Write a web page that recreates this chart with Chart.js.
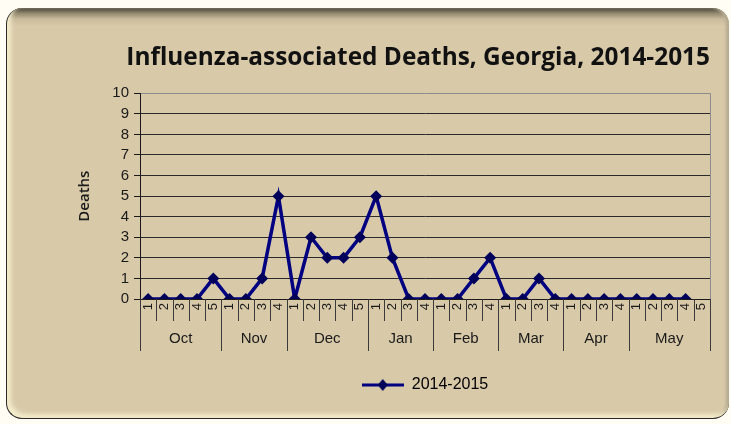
<!DOCTYPE html>
<html>
<head>
<meta charset="utf-8">
<script src="https://cdn.jsdelivr.net/npm/chart.js@4/dist/chart.umd.min.js"></script>
<style>
  body { margin: 0; background: #fffdf4; }
  #wrap { position: relative; width: 731px; height: 424px; overflow: hidden; }
  #panel {
    position: absolute; left: 6px; top: 8px; width: 722px; height: 410px;
    border-radius: 16px;
    border-left: 1px solid #2a2a2a; border-bottom: 1px solid #2a2a2a;
    background: linear-gradient(to bottom, #3c3a30 0px, #8f866c 5px, #c9bb9c 11px, #d8c9a9 18px);
    box-shadow: inset 4px -4px 4px #f4eccb, inset -3px 0 3px #b5ab90;
  }
  #chart { position: absolute; left: 0; top: 0; }
</style>
</head>
<body>
<div id="wrap">
  <div id="panel"></div>
  <canvas id="chart" width="731" height="424"></canvas>
</div>
<script>
// Week labels and month grouping for the x axis
const weekLabels = ["1","2","3","4","5", "1","2","3","4", "1","2","3","4","5",
                    "1","2","3","4", "1","2","3","4", "1","2","3","4",
                    "1","2","3","4", "1","2","3","4","5"];
const monthNames = ["Oct", "Nov", "Dec", "Jan", "Feb", "Mar", "Apr", "May"];
const monthWeeks = [5, 4, 5, 4, 4, 4, 4, 5];

// Deaths per week, 2014-2015 season
const deaths = [0,0,0,0,1, 0,0,1,5, 0,3,2,2,3, 5,2,0,0, 0,0,1,2, 0,0,1,0,
                0,0,0,0, 0,0,0,0,null];

const yTicks = [0, 1, 2, 3, 4, 5, 6, 7, 8, 9, 10];

const lineColor = "#000080";
const inkColor = "#1a1a1a";
const sans = "'Liberation Sans', Arial, sans-serif";

// legend icon: a short line with a diamond on it
function legendIcon() {
  const c = document.createElement("canvas");
  c.width = 42; c.height = 14;
  const g = c.getContext("2d");
  g.strokeStyle = lineColor;
  g.lineWidth = 3;
  g.beginPath();
  g.moveTo(0, 7); g.lineTo(42, 7);
  g.stroke();
  g.fillStyle = "#00005a";
  g.beginPath();
  g.moveTo(21, 1); g.lineTo(26, 7); g.lineTo(21, 13); g.lineTo(16, 7);
  g.closePath();
  g.fill();
  return c;
}

// draws week dividers, month dividers, month names and the right frame
const monthGroups = {
  id: "monthGroups",
  afterDraw(chart) {
    const x = chart.scales.x;
    const area = chart.chartArea;
    const ctx = chart.ctx;
    const base = area.bottom;
    ctx.save();
    ctx.lineWidth = 1;

    // right frame of plot area
    ctx.strokeStyle = "#8c8c8c";
    ctx.beginPath();
    ctx.moveTo(Math.round(area.right) + 0.5, area.top);
    ctx.lineTo(Math.round(area.right) + 0.5, base);
    ctx.stroke();

    ctx.strokeStyle = "#3a3a3a";
    const starts = [];
    let idx = 0;
    monthWeeks.forEach(n => { starts.push(idx); idx += n; });
    starts.push(idx);

    // week dividers
    for (let i = 0; i <= weekLabels.length; i++) {
      const px = Math.round(x.getPixelForValue(i - 0.5)) + 0.5;
      const isMonth = starts.includes(i);
      ctx.beginPath();
      ctx.moveTo(px, base);
      ctx.lineTo(px, base + (isMonth ? 52 : 22));
      ctx.stroke();
    }

    // month names
    ctx.fillStyle = inkColor;
    ctx.font = "15px " + sans;
    ctx.textAlign = "center";
    ctx.textBaseline = "middle";
    for (let m = 0; m < monthNames.length; m++) {
      const a = x.getPixelForValue(starts[m] - 0.5);
      const b = x.getPixelForValue(starts[m + 1] - 0.5);
      ctx.fillText(monthNames[m], (a + b) / 2, base + 40);
    }
    ctx.restore();
  }
};

new Chart(document.getElementById("chart"), {
  type: "line",
  data: {
    labels: weekLabels,
    datasets: [{
      label: "2014-2015",
      data: deaths,
      borderColor: lineColor,
      backgroundColor: "#00005a",
      borderWidth: 3.5,
      pointStyle: "rectRot",
      pointRadius: 6,
      pointBorderWidth: 0,
      tension: 0,
      spanGaps: false
    }]
  },
  options: {
    responsive: false,
    animation: false,
    layout: { padding: { left: 70, right: 21, top: 43, bottom: 21 } },
    plugins: {
      title: {
        display: true,
        text: "Influenza-associated Deaths, Georgia, 2014-2015",
        align: "end",
        color: "#111",
        font: { family: "'Open Sans', sans-serif", size: 24.4, weight: "bold" },
        padding: { top: 0, bottom: 21 }
      },
      legend: {
        position: "bottom",
        fullSize: false,
        labels: {
          usePointStyle: true,
          pointStyleWidth: 42,
          boxHeight: 14,
          padding: 10,
          color: inkColor,
          font: { family: sans, size: 16 },
          generateLabels(chart) {
            return [{
              text: chart.data.datasets[0].label,
              pointStyle: legendIcon(),
              fillStyle: lineColor,
              strokeStyle: lineColor,
              lineWidth: 0,
              datasetIndex: 0
            }];
          }
        }
      },
      tooltip: { enabled: false }
    },
    scales: {
      x: {
        type: "category",
        offset: true,
        afterFit(scale) { scale.height = 68; },
        grid: { display: false, drawTicks: false },
        border: { display: true, color: inkColor },
        ticks: {
          autoSkip: false,
          minRotation: 90,
          maxRotation: 90,
          padding: 4,
          color: inkColor,
          font: { family: sans, size: 13 }
        }
      },
      y: {
        min: 0,
        max: 10,
        afterFit(scale) { scale.width = 70; },
        afterBuildTicks(scale) { scale.ticks = yTicks.map(v => ({ value: v })); },
        border: { display: true, color: inkColor },
        grid: {
          color: ctx => (ctx.tick && ctx.tick.value === 10 ? "#8c8c8c" : "#2a2a2a"),
          tickLength: 6,
          tickColor: inkColor
        },
        ticks: {
          autoSkip: false,
          padding: 5,
          color: inkColor,
          font: { family: sans, size: 15 }
        },
        title: {
          display: true,
          text: "Deaths",
          color: inkColor,
          padding: { top: 6, bottom: 0 },
          font: { family: "'Open Sans', sans-serif", size: 15, weight: "600" }
        }
      }
    }
  },
  plugins: [monthGroups]
});
</script>
</body>
</html>
